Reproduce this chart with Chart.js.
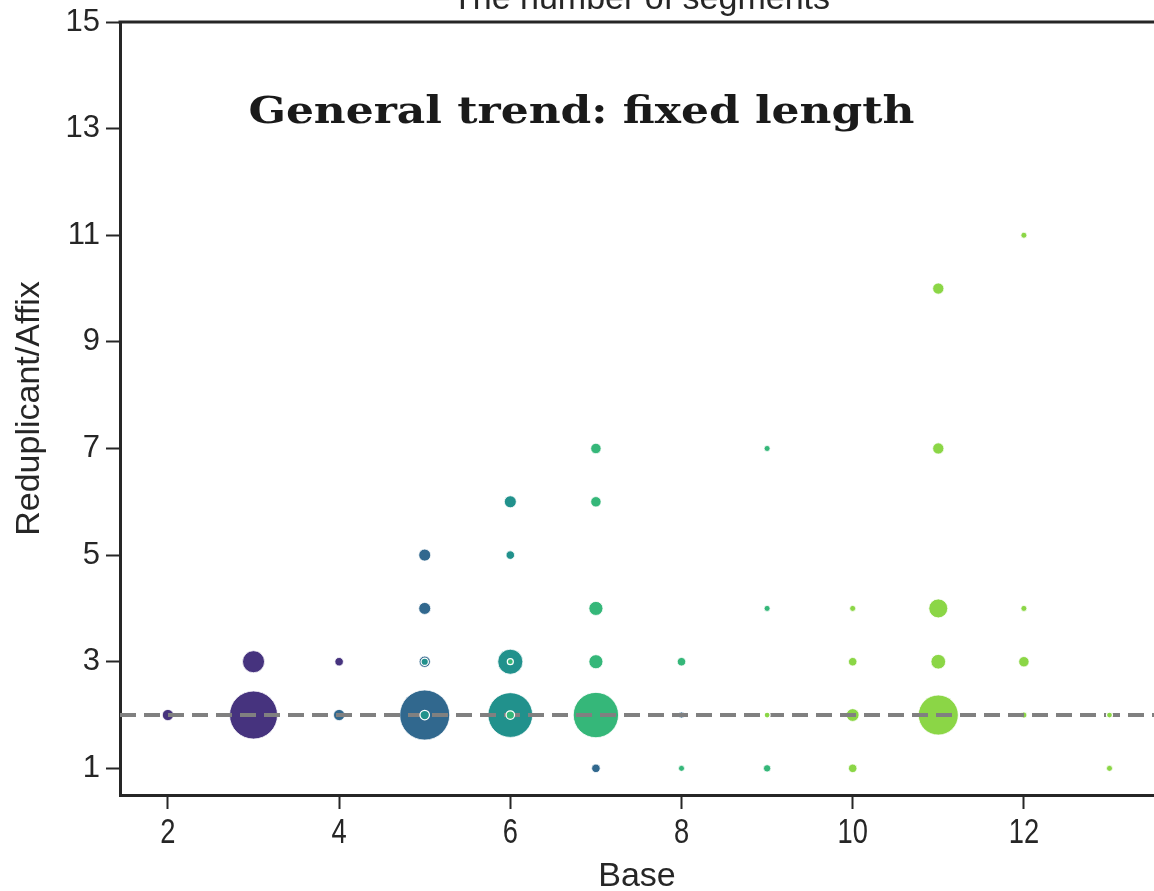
<!DOCTYPE html>
<html>
<head>
<meta charset="utf-8">
<script src="https://cdn.jsdelivr.net/npm/chart.js@4/dist/chart.umd.min.js"></script>
<style>
  html, body { margin: 0; padding: 0; background: #fff; overflow: hidden; }
  #wrap { width: 1154px; height: 891px; position: relative; }
</style>
</head>
<body>
<div id="wrap"><canvas id="chart" width="1154" height="891"></canvas></div>
<script>
// Axis tick values
const xTicks = [2, 4, 6, 8, 10, 12];
const yTicks = [1, 3, 5, 7, 9, 11, 13, 15];
const guideValue = 2;            // dashed reference: fixed length of 2

// Cases: base length, reduplicant/affix length, number of cases
const purpleBase = [2, 3, 3, 4];
const purpleRed  = [2, 3, 2, 3];
const purpleN    = [6, 26, 127, 3];

const blueBase = [4, 5, 5, 5, 5, 7, 8];
const blueRed  = [2, 5, 4, 3, 2, 1, 2];
const blueN    = [6, 7, 7, 6, 138, 3, 1];

const tealBase = [6, 6, 6, 6];
const tealRed  = [6, 5, 3, 2];
const tealN    = [7, 3, 34, 110];

const greenBase = [7, 7, 7, 7, 7, 8, 8, 9, 9, 9];
const greenRed  = [7, 6, 4, 3, 2, 3, 1, 7, 4, 1];
const greenN    = [5, 5, 10, 10, 113, 3, 1, 1, 1, 2];

const limeBase = [10, 10, 10, 10, 11, 11, 11, 11, 11, 12, 12, 12, 12, 13];
const limeRed  = [4, 3, 2, 1, 10, 7, 4, 3, 2, 11, 4, 3, 2, 1];
const limeN    = [1, 3, 8, 3, 6, 6, 19, 11, 88, 1, 1, 5, 1, 1];

// Cases drawn above the reference line
const nestedTealBase = [5, 5];
const nestedTealRed  = [3, 2];
const nestedTealN    = [2, 4];

const nestedGreenBase = [6, 6];
const nestedGreenRed  = [3, 2];
const nestedGreenN    = [1, 3];

const nestedLimeBase = [9, 13];
const nestedLimeRed  = [2, 2];
const nestedLimeN    = [1, 1];

// bubble area grows linearly with the number of cases
const radius = n => Math.sqrt(4.5 * (n + 1));
const toPoints = (xs, ys, ns) => xs.map((x, i) => ({ x, y: ys[i], r: radius(ns[i]) }));

const COLORS = {
  purple: '#46337e',
  blue:   '#31688e',
  teal:   '#21918c',
  green:  '#35b779',
  lime:   '#8bd646'
};

function series(label, xs, ys, ns, color, nested) {
  return {
    label,
    data: toPoints(xs, ys, ns),
    backgroundColor: color,
    borderColor: '#ffffff',
    borderWidth: nested ? 1.2 : 0.8,
    order: nested ? 0 : 1,
    nested: !!nested
  };
}

const datasets = [
  series('2–4 segments', purpleBase, purpleRed, purpleN, COLORS.purple),
  series('5 segments', blueBase, blueRed, blueN, COLORS.blue),
  series('6 segments', tealBase, tealRed, tealN, COLORS.teal),
  series('7–9 segments', greenBase, greenRed, greenN, COLORS.green),
  series('10+ segments', limeBase, limeRed, limeN, COLORS.lime),
  series('nested 5', nestedTealBase, nestedTealRed, nestedTealN, COLORS.teal, true),
  series('nested 6', nestedGreenBase, nestedGreenRed, nestedGreenN, COLORS.green, true),
  series('nested 9+', nestedLimeBase, nestedLimeRed, nestedLimeN, COLORS.lime, true)
];

const INK = '#262626';
const SANS = '"Liberation Sans", Arial, sans-serif';

// Dashed guide between the two layers, top spine and text overlays
const decor = {
  id: 'decor',
  beforeDatasetsDraw(chart) { chart.$guideDone = false; },
  beforeDatasetDraw(chart, args) {
    const ds = chart.data.datasets[args.index];
    if (!ds.nested || chart.$guideDone) return;
    chart.$guideDone = true;
    const { ctx, chartArea: a } = chart;
    const y = chart.scales.y.getPixelForValue(guideValue);
    ctx.save();
    ctx.beginPath();
    ctx.rect(a.left, a.top, a.right - a.left, a.bottom - a.top);
    ctx.clip();
    ctx.strokeStyle = '#808080';
    ctx.lineWidth = 4;
    ctx.setLineDash([16, 8]);
    ctx.beginPath();
    ctx.moveTo(a.left, y);
    ctx.lineTo(a.right, y);
    ctx.stroke();
    ctx.restore();
  },
  afterDraw(chart) {
    const { ctx, chartArea: a, scales } = chart;
    ctx.save();
    // top spine
    ctx.strokeStyle = INK;
    ctx.lineWidth = 3;
    ctx.beginPath();
    ctx.moveTo(a.left - 1.5, a.top);
    ctx.lineTo(a.right, a.top);
    ctx.stroke();

    // condensed x tick labels
    ctx.fillStyle = INK;
    ctx.font = '35px ' + SANS;
    ctx.textAlign = 'center';
    ctx.textBaseline = 'top';
    scales.x.ticks.forEach(t => {
      ctx.save();
      ctx.translate(scales.x.getPixelForValue(t.value), a.bottom + 21);
      ctx.scale(0.78, 1);
      ctx.fillText(String(t.value), 0, 0);
      ctx.restore();
    });

    // figure title
    ctx.font = '34px ' + SANS;
    ctx.textAlign = 'center';
    ctx.textBaseline = 'alphabetic';
    ctx.fillText('The number of segments', (a.left + a.right) / 2 + 4, 9);

    // annotation
    const label = 'General trend: fixed length';
    ctx.font = 'bold 38px "DejaVu Serif", serif';
    ctx.textAlign = 'left';
    ctx.textBaseline = 'bottom';
    const x = scales.x.getPixelForValue(2.94);
    const y = scales.y.getPixelForValue(13) + 4;
    const w = ctx.measureText(label).width;
    ctx.translate(x, y);
    ctx.scale(666 / w, 1);
    ctx.fillStyle = '#1a1a1a';
    ctx.fillText(label, 0, 0);
    ctx.restore();
  }
};

new Chart(document.getElementById('chart'), {
  type: 'bubble',
  data: { datasets },
  options: {
    responsive: false,
    animation: false,
    devicePixelRatio: 1,
    events: [],
    layout: { autoPadding: false, padding: { top: 22, right: 0, bottom: 0, left: 0 } },
    plugins: { legend: { display: false }, tooltip: { enabled: false } },
    scales: {
      x: {
        type: 'linear',
        min: 1.44,
        max: 13.52,
        afterBuildTicks: s => { s.ticks = xTicks.map(v => ({ value: v })); },
        afterFit: s => { s.height = 96; },
        grid: { display: true, drawOnChartArea: false, drawTicks: true, tickLength: 14, tickWidth: 2, tickColor: INK },
        border: { display: true, color: INK, width: 3 },
        ticks: { display: false, autoSkip: false },
        title: {
          display: true, text: 'Base', color: INK,
          font: { family: SANS, size: 34, lineHeight: 0.84 },
          padding: { top: 0, bottom: 0 }
        }
      },
      y: {
        type: 'linear',
        min: 0.5,
        max: 15,
        afterBuildTicks: s => { s.ticks = yTicks.map(v => ({ value: v })); },
        afterFit: s => { s.width = 120; },
        grid: { display: true, drawOnChartArea: false, drawTicks: true, tickLength: 14, tickWidth: 2, tickColor: INK },
        border: { display: true, color: INK, width: 3 },
        ticks: {
          color: INK, padding: 6, autoSkip: false,
          font: { family: SANS, size: 31, lineHeight: 1 }
        },
        title: {
          display: true, text: 'Reduplicant/Affix', color: INK,
          font: { family: SANS, size: 34, lineHeight: 1 },
          padding: { top: 13, bottom: 0 }
        }
      }
    }
  },
  plugins: [decor]
});
</script>
</body>
</html>
